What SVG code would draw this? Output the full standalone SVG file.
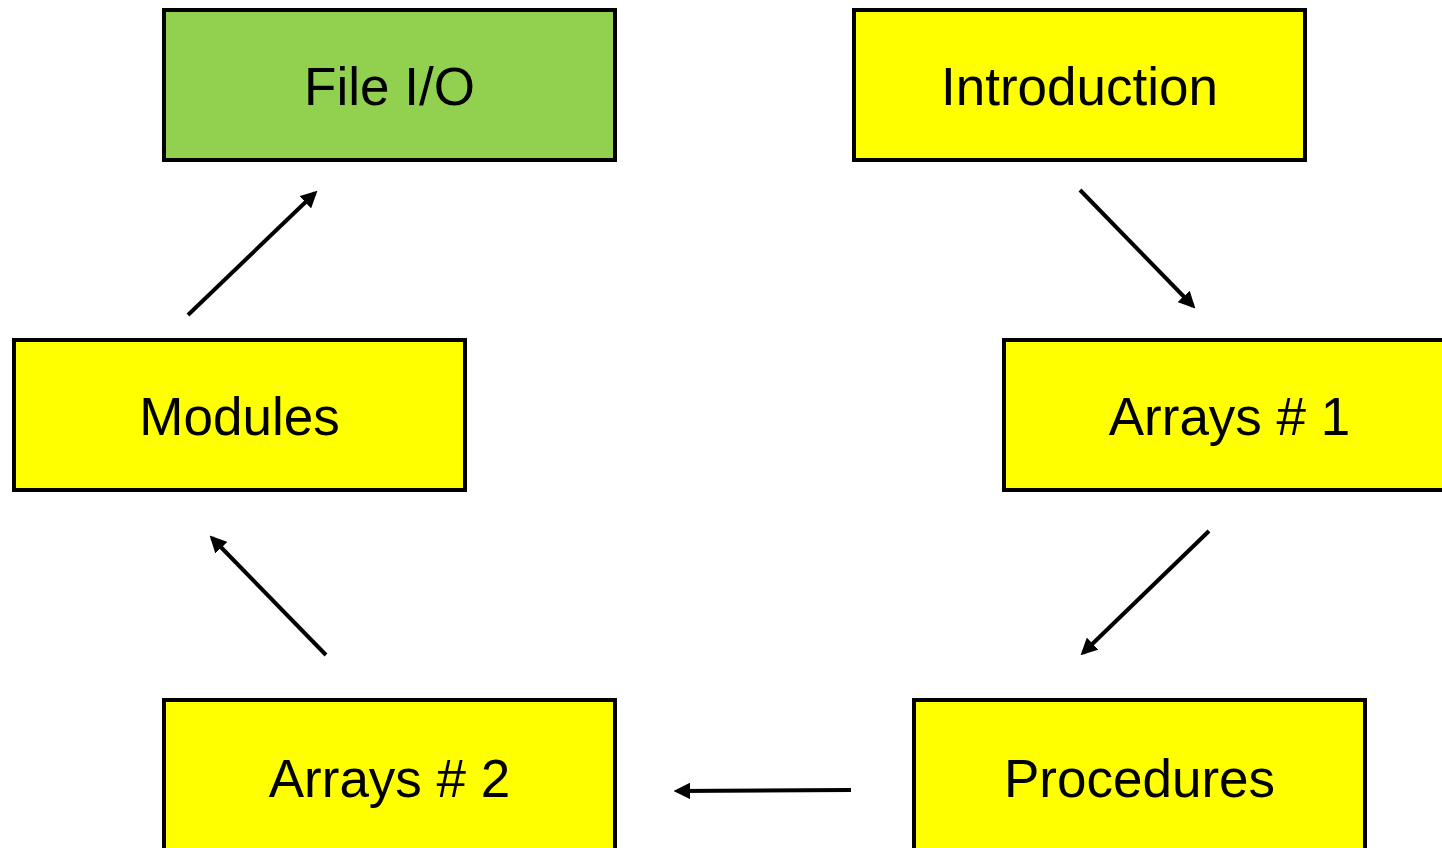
<svg xmlns="http://www.w3.org/2000/svg" width="1442" height="848" viewBox="0 0 1442 848">
  <style>
    .box { stroke: #000; stroke-width: 4; }
    .topic { fill: #FFFF00; }
    .current { fill: #92D050; }
    .label { font-family: "Liberation Sans", Arial, sans-serif; font-size: 53px; fill: #000; text-anchor: middle; }
    .link { stroke: #000; stroke-width: 4; fill: none; marker-end: url(#head); }
  </style>
  <defs>
    <marker id="head" viewBox="0 0 10 10" refX="8" refY="5" markerWidth="4.2" markerHeight="4.2" orient="auto" markerUnits="strokeWidth">
      <path d="M0,0 L10,5 L0,10 Z" fill="#000"/>
    </marker>
  </defs>
  <rect width="1442" height="848" fill="#fff"/>

  <g id="file-io">
    <rect class="box current" x="164" y="10" width="451" height="150"/>
    <text class="label" x="389.5" y="105">File I/O</text>
  </g>
  <g id="introduction">
    <rect class="box topic" x="854" y="10" width="451" height="150"/>
    <text class="label" x="1079.5" y="105">Introduction</text>
  </g>
  <g id="modules">
    <rect class="box topic" x="14" y="340" width="451" height="150"/>
    <text class="label" x="239.5" y="435">Modules</text>
  </g>
  <g id="arrays-1">
    <rect class="box topic" x="1004" y="340" width="451" height="150"/>
    <text class="label" x="1229.5" y="435">Arrays # 1</text>
  </g>
  <g id="arrays-2">
    <rect class="box topic" x="164" y="700" width="451" height="170"/>
    <text class="label" x="389.5" y="797">Arrays # 2</text>
  </g>
  <g id="procedures">
    <rect class="box topic" x="914" y="700" width="451" height="170"/>
    <text class="label" x="1139.5" y="797">Procedures</text>
  </g>

  <g id="connectors">
    <line class="link" x1="1080" y1="190" x2="1193" y2="306"/>
    <line class="link" x1="1209" y1="531" x2="1083" y2="653"/>
    <line class="link" x1="851" y1="790" x2="677" y2="791"/>
    <line class="link" x1="326" y1="655" x2="212" y2="538"/>
    <line class="link" x1="188" y1="315" x2="315" y2="193"/>
  </g>
</svg>
